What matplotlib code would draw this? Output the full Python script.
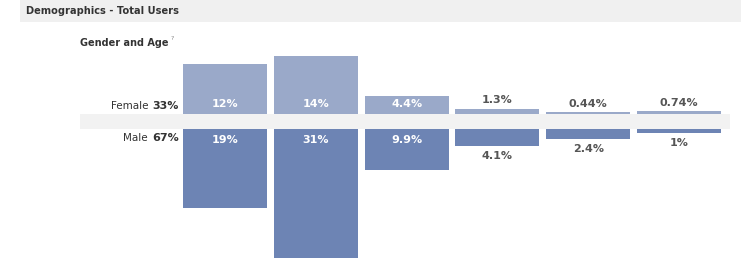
import matplotlib
matplotlib.use("Agg")
import matplotlib.pyplot as plt
from matplotlib.patches import Rectangle
from matplotlib.text import Annotation

age_groups = ["13-17", "18-24", "25-34", "35-44", "45-54", "55+"]
female_pct = [12, 14, 4.4, 1.3, 0.44, 0.74]
male_pct = [19, 31, 9.9, 4.1, 2.4, 1]
female_labels = ["12%", "14%", "4.4%", "1.3%", "0.44%", "0.74%"]
male_labels = ["19%", "31%", "9.9%", "4.1%", "2.4%", "1%"]
female_total = "33%"
male_total = "67%"

W, H = 756, 278
plt.rcParams["font.family"] = ["DejaVu Sans"]
fig = plt.figure(figsize=(W / 100, H / 100), dpi=100)
fig.patch.set_facecolor("white")

def fx(px):
    return px / W

def fy(py):
    return 1 - py / H

def side_label(anchor, text, dx, **kw):
    a = Annotation(text, xy=(0, 0.5) if dx < 0 else (1, 0.9), xycoords=anchor,
                   xytext=(dx, 0), textcoords="offset points", annotation_clip=False, **kw)
    fig.add_artist(a)
    return a

# header band
fig.patches.append(Rectangle((fx(20), fy(22)), fx(721), 22 / H, transform=fig.transFigure,
                             facecolor="#f0f0f0", edgecolor="none", zorder=0))
fig.text(fx(26), fy(11), "Demographics - Total Users", fontsize=7.1, fontweight="bold",
         color="#333333", va="center", ha="left")
t_ga = fig.text(fx(80), fy(43), "Gender and Age", fontsize=7, fontweight="bold",
                color="#333333", va="center", ha="left")
side_label(t_ga, "?", 1.5, fontsize=4.5, color="#888888", ha="left", va="center")

# middle band
fig.patches.append(Rectangle((fx(80), fy(129)), fx(650), 15 / H, transform=fig.transFigure,
                             facecolor="#f2f2f2", edgecolor="none", zorder=0))

PXPER = 4.15
x0, x1 = 179.5, 724.5
top_h = 15 * PXPER
ax_f = fig.add_axes([fx(x0), fy(114), fx(x1 - x0), top_h / H])
ax_m = fig.add_axes([fx(x0), fy(129) - 32 * PXPER / H, fx(x1 - x0), 32 * PXPER / H])

fcol = "#9aa9c9"
mcol = "#6d84b4"
xs = list(range(len(age_groups)))
ax_f.bar(xs, female_pct, width=0.923, color=fcol)
ax_m.bar(xs, male_pct, width=0.923, color=mcol)
ax_f.set_xlim(-0.5, 5.5)
ax_m.set_xlim(-0.5, 5.5)
ax_f.set_ylim(0, 15)
ax_m.set_ylim(32, 0)
for ax in (ax_f, ax_m):
    ax.axis("off")
    ax.patch.set_alpha(0)

for i, (v, lab) in enumerate(zip(female_pct, female_labels)):
    if v >= 3:
        ax_f.annotate(lab, (i, 0), xytext=(0, 7.3), textcoords="offset points",
                      ha="center", va="center", fontsize=8, fontweight="bold", color="white")
    else:
        ax_f.annotate(lab, (i, v), xytext=(0, 6), textcoords="offset points",
                      ha="center", va="center", fontsize=8, fontweight="bold", color="#555555",
                      annotation_clip=False)

for i, (v, lab) in enumerate(zip(male_pct, male_labels)):
    if v >= 6:
        ax_m.annotate(lab, (i, 0), xytext=(0, -8), textcoords="offset points",
                      ha="center", va="center", fontsize=8, fontweight="bold", color="white")
    else:
        ax_m.annotate(lab, (i, v), xytext=(0, -7), textcoords="offset points",
                      ha="center", va="center", fontsize=8, fontweight="bold", color="#555555",
                      annotation_clip=False)

# age labels in band
for i, g in enumerate(age_groups):
    ax_f.annotate(g, (i, 0), xytext=(0, -5.4), textcoords="offset points",
                  ha="center", va="center", fontsize=6, color="#555555", annotation_clip=False)

# left labels
tf = fig.text(fx(179), fy(106), female_total, fontsize=8, fontweight="bold", color="#333333",
              ha="right", va="center")
side_label(tf, "Female", -3, fontsize=7.5, color="#333333", ha="right", va="center")
tm = fig.text(fx(179), fy(138), male_total, fontsize=8, fontweight="bold", color="#333333",
              ha="right", va="center")
side_label(tm, "Male", -3, fontsize=7.5, color="#333333", ha="right", va="center")

fig.savefig("out.png", dpi=100, facecolor="white")
